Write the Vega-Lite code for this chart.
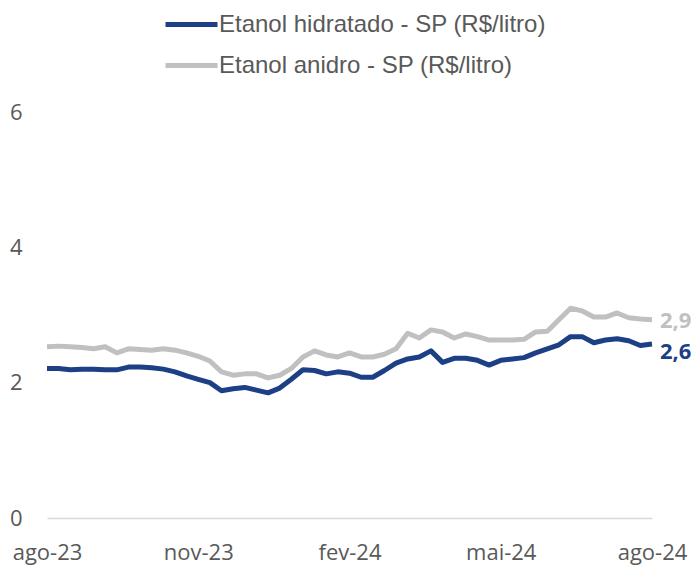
{
  "$schema": "https://vega.github.io/schema/vega-lite/v6.json",
  "width": 605,
  "height": 406,
  "autosize": {"type": "none"},
  "padding": {"left": 47, "top": 112, "right": 42, "bottom": 49},
  "background": "white",
  "config": {
    "view": {"stroke": null},
    "locale": {"number": {"decimal": ",", "thousands": ".", "grouping": [3], "currency": ["R$ ", ""]}}
  },
  "data": {
    "values": [
      {"date": "2023-08-04", "hidratado": 2.21, "anidro": 2.53},
      {"date": "2023-08-11", "hidratado": 2.21, "anidro": 2.54},
      {"date": "2023-08-18", "hidratado": 2.19, "anidro": 2.53},
      {"date": "2023-08-25", "hidratado": 2.20, "anidro": 2.52},
      {"date": "2023-09-01", "hidratado": 2.20, "anidro": 2.50},
      {"date": "2023-09-08", "hidratado": 2.19, "anidro": 2.53},
      {"date": "2023-09-15", "hidratado": 2.19, "anidro": 2.44},
      {"date": "2023-09-22", "hidratado": 2.23, "anidro": 2.50},
      {"date": "2023-09-29", "hidratado": 2.23, "anidro": 2.49},
      {"date": "2023-10-06", "hidratado": 2.22, "anidro": 2.48},
      {"date": "2023-10-13", "hidratado": 2.20, "anidro": 2.50},
      {"date": "2023-10-20", "hidratado": 2.16, "anidro": 2.48},
      {"date": "2023-10-27", "hidratado": 2.10, "anidro": 2.44},
      {"date": "2023-11-03", "hidratado": 2.05, "anidro": 2.39},
      {"date": "2023-11-10", "hidratado": 2.00, "anidro": 2.32},
      {"date": "2023-11-17", "hidratado": 1.88, "anidro": 2.16},
      {"date": "2023-11-24", "hidratado": 1.91, "anidro": 2.11},
      {"date": "2023-12-01", "hidratado": 1.93, "anidro": 2.13},
      {"date": "2023-12-08", "hidratado": 1.89, "anidro": 2.13},
      {"date": "2023-12-15", "hidratado": 1.85, "anidro": 2.07},
      {"date": "2023-12-22", "hidratado": 1.92, "anidro": 2.11},
      {"date": "2023-12-29", "hidratado": 2.05, "anidro": 2.21},
      {"date": "2024-01-05", "hidratado": 2.19, "anidro": 2.38},
      {"date": "2024-01-12", "hidratado": 2.18, "anidro": 2.47},
      {"date": "2024-01-19", "hidratado": 2.13, "anidro": 2.41},
      {"date": "2024-01-26", "hidratado": 2.16, "anidro": 2.38},
      {"date": "2024-02-02", "hidratado": 2.14, "anidro": 2.44},
      {"date": "2024-02-09", "hidratado": 2.08, "anidro": 2.38},
      {"date": "2024-02-16", "hidratado": 2.08, "anidro": 2.38},
      {"date": "2024-02-23", "hidratado": 2.18, "anidro": 2.42},
      {"date": "2024-03-01", "hidratado": 2.29, "anidro": 2.50},
      {"date": "2024-03-08", "hidratado": 2.35, "anidro": 2.73},
      {"date": "2024-03-15", "hidratado": 2.38, "anidro": 2.66},
      {"date": "2024-03-22", "hidratado": 2.47, "anidro": 2.78},
      {"date": "2024-03-29", "hidratado": 2.30, "anidro": 2.75},
      {"date": "2024-04-05", "hidratado": 2.36, "anidro": 2.66},
      {"date": "2024-04-12", "hidratado": 2.36, "anidro": 2.72},
      {"date": "2024-04-19", "hidratado": 2.33, "anidro": 2.68},
      {"date": "2024-04-26", "hidratado": 2.26, "anidro": 2.63},
      {"date": "2024-05-03", "hidratado": 2.33, "anidro": 2.63},
      {"date": "2024-05-10", "hidratado": 2.35, "anidro": 2.63},
      {"date": "2024-05-17", "hidratado": 2.37, "anidro": 2.64},
      {"date": "2024-05-24", "hidratado": 2.44, "anidro": 2.75},
      {"date": "2024-05-31", "hidratado": 2.50, "anidro": 2.76},
      {"date": "2024-06-07", "hidratado": 2.56, "anidro": 2.93},
      {"date": "2024-06-14", "hidratado": 2.68, "anidro": 3.10},
      {"date": "2024-06-21", "hidratado": 2.68, "anidro": 3.06},
      {"date": "2024-06-28", "hidratado": 2.59, "anidro": 2.97},
      {"date": "2024-07-05", "hidratado": 2.63, "anidro": 2.97},
      {"date": "2024-07-12", "hidratado": 2.65, "anidro": 3.03},
      {"date": "2024-07-19", "hidratado": 2.62, "anidro": 2.96},
      {"date": "2024-07-26", "hidratado": 2.55, "anidro": 2.94},
      {"date": "2024-08-02", "hidratado": 2.57, "anidro": 2.93}
    ]
  },
  "transform": [{"fold": ["hidratado", "anidro"], "as": ["serie", "valor"]}],
  "encoding": {
    "x": {
      "field": "date",
      "type": "temporal",
      "scale": {
        "type": "utc",
        "domain": [
          {"year": 2023, "month": 8, "date": 4, "utc": true},
          {"year": 2024, "month": 8, "date": 2, "utc": true}
        ]
      },
      "axis": {
        "title": null,
        "values": [
          {"year": 2023, "month": 8, "date": 4, "utc": true},
          {"year": 2023, "month": 11, "date": 3, "utc": true},
          {"year": 2024, "month": 2, "date": 2, "utc": true},
          {"year": 2024, "month": 5, "date": 3, "utc": true},
          {"year": 2024, "month": 8, "date": 2, "utc": true}
        ],
        "labelExpr": "['jan','fev','mar','abr','mai','jun','jul','ago','set','out','nov','dez'][utcmonth(datum.value)] + '-' + utcFormat(datum.value, '%y')",
        "grid": false,
        "ticks": false,
        "domain": true,
        "domainColor": "#d9d9d9",
        "domainWidth": 1.5,
        "labelFont": "Open Sans",
        "labelFontSize": 22,
        "labelColor": "#595959",
        "labelPadding": 24,
        "labelFlush": false,
        "labelOverlap": false
      }
    },
    "y": {
      "field": "valor",
      "type": "quantitative",
      "scale": {"domain": [0, 6], "nice": false, "zero": true},
      "axis": {
        "title": null,
        "values": [0, 2, 4, 6],
        "grid": false,
        "ticks": false,
        "domain": false,
        "labelFont": "Open Sans",
        "labelFontSize": 22,
        "labelColor": "#595959",
        "labelPadding": 25,
        "format": "d"
      }
    }
  },
  "layer": [
    {
      "mark": {"type": "line", "strokeWidth": 5, "strokeJoin": "round"},
      "encoding": {
        "color": {
          "field": "serie",
          "type": "nominal",
          "scale": {"domain": ["hidratado", "anidro"], "range": ["#1d3f86", "#c0c0c0"]},
          "legend": {
            "title": null,
            "orient": "none",
            "legendX": 116,
            "legendY": -116,
            "symbolType": "stroke",
            "symbolSize": 2704,
            "symbolStrokeWidth": 5,
            "labelFont": "Liberation Sans",
            "labelFontSize": 24,
            "labelColor": "#595959",
            "labelOffset": -1,
            "labelLimit": 500,
            "rowPadding": -9,
            "labelExpr": "datum.label == 'hidratado' ? 'Etanol hidratado - SP (R$/litro)' : 'Etanol anidro - SP (R$/litro)'"
          }
        }
      }
    },
    {
      "transform": [{"filter": "datum.serie == 'anidro' && time(datum.date) >= utc(2024, 7, 1)"}],
      "mark": {"type": "text", "align": "left", "baseline": "middle", "dx": 8, "dy": 1, "font": "Open Sans", "fontSize": 22, "fontWeight": "bold", "color": "#c0c0c0"},
      "encoding": {"text": {"field": "valor", "type": "quantitative", "format": ".1f"}}
    },
    {
      "transform": [{"filter": "datum.serie == 'hidratado' && time(datum.date) >= utc(2024, 7, 1)"}],
      "mark": {"type": "text", "align": "left", "baseline": "middle", "dx": 8, "dy": 8, "font": "Open Sans", "fontSize": 22, "fontWeight": "bold", "color": "#1d3f86"},
      "encoding": {"text": {"field": "valor", "type": "quantitative", "format": ".1f"}}
    }
  ]
}
